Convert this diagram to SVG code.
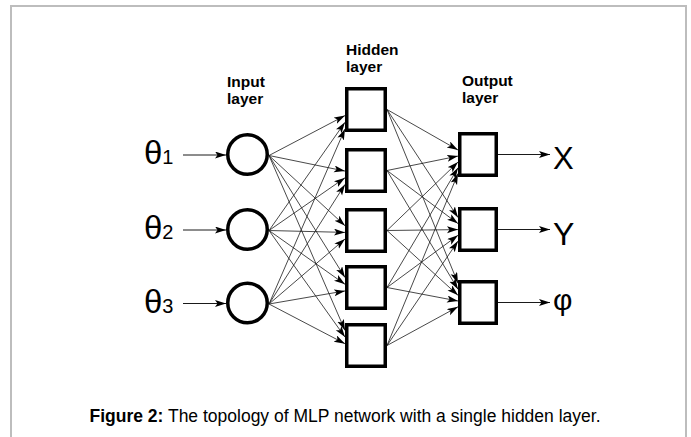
<svg xmlns="http://www.w3.org/2000/svg" width="691" height="437" viewBox="0 0 691 437">
  <style>
    .frame { fill: none; stroke: #bdbdbd; stroke-width: 2; }
    .node { fill: #ffffff; stroke: #000000; stroke-width: 3.5; }
    .link { fill: none; stroke: #1a1a1a; stroke-width: 0.8; marker-end: url(#head); }
    .io { fill: none; stroke: #1a1a1a; stroke-width: 1; marker-end: url(#head); }
    .lbl { font-family: "Liberation Sans", Arial, sans-serif; font-weight: bold; font-size: 15.5px; fill: #000; }
    .sym { font-family: "Liberation Sans", Arial, sans-serif; fill: #000; }
    .cap { font-family: "Liberation Sans", Arial, sans-serif; font-size: 17.5px; fill: #000; }
  </style>
  <defs>
    <marker id="head" markerUnits="userSpaceOnUse" markerWidth="12" markerHeight="8" refX="11" refY="3.5" orient="auto">
      <path d="M0,0 L11,3.5 L0,7 L2.5,3.5 Z" fill="#000"/>
    </marker>
  </defs>

  <rect width="691" height="437" fill="#ffffff"/>
  <path class="frame" d="M11,440 V6 H686 V440"/>

  <!-- layer titles -->
  <g id="titles">
    <text class="lbl" x="227" y="87">Input</text>
    <text class="lbl" x="227" y="104">layer</text>
    <text class="lbl" x="346" y="55">Hidden</text>
    <text class="lbl" x="346" y="72">layer</text>
    <text class="lbl" x="462" y="86">Output</text>
    <text class="lbl" x="462" y="103">layer</text>
  </g>

  <!-- connectors -->
  <g id="connectors">
    <!-- inputs into input neurons -->
    <line class="io" x1="183" y1="155" x2="226" y2="155"/>
    <line class="io" x1="183" y1="230" x2="226" y2="230"/>
    <line class="io" x1="183" y1="303.5" x2="226" y2="303.5"/>
    <!-- input layer to hidden layer -->
    <line class="link" x1="269" y1="155.5" x2="345" y2="115.6"/>
    <line class="link" x1="269" y1="230.5" x2="345" y2="122.3"/>
    <line class="link" x1="269" y1="304" x2="345" y2="128.9"/>
    <line class="link" x1="269" y1="155.5" x2="345" y2="171.1"/>
    <line class="link" x1="269" y1="230.5" x2="345" y2="177.8"/>
    <line class="link" x1="269" y1="304" x2="345" y2="184.4"/>
    <line class="link" x1="269" y1="155.5" x2="345" y2="225.7"/>
    <line class="link" x1="269" y1="230.5" x2="345" y2="232.4"/>
    <line class="link" x1="269" y1="304" x2="345" y2="239"/>
    <line class="link" x1="269" y1="155.5" x2="345" y2="277.5"/>
    <line class="link" x1="269" y1="230.5" x2="345" y2="284.3"/>
    <line class="link" x1="269" y1="304" x2="345" y2="290.9"/>
    <line class="link" x1="269" y1="155.5" x2="345" y2="330.4"/>
    <line class="link" x1="269" y1="230.5" x2="345" y2="337.1"/>
    <line class="link" x1="269" y1="304" x2="345" y2="343.7"/>
    <!-- hidden layer to output layer -->
    <line class="link" x1="387" y1="109.5" x2="458" y2="150"/>
    <line class="link" x1="387" y1="170.5" x2="458" y2="156.1"/>
    <line class="link" x1="387" y1="230.5" x2="458" y2="162.1"/>
    <line class="link" x1="387" y1="287.5" x2="458" y2="167.8"/>
    <line class="link" x1="387" y1="345.5" x2="458" y2="173.6"/>
    <line class="link" x1="387" y1="109.5" x2="458" y2="217.5"/>
    <line class="link" x1="387" y1="170.5" x2="458" y2="223.6"/>
    <line class="link" x1="387" y1="230.5" x2="458" y2="229.6"/>
    <line class="link" x1="387" y1="287.5" x2="458" y2="235.3"/>
    <line class="link" x1="387" y1="345.5" x2="458" y2="241.1"/>
    <line class="link" x1="387" y1="109.5" x2="458" y2="283.2"/>
    <line class="link" x1="387" y1="170.5" x2="458" y2="289.3"/>
    <line class="link" x1="387" y1="230.5" x2="458" y2="295.3"/>
    <line class="link" x1="387" y1="287.5" x2="458" y2="301"/>
    <line class="link" x1="387" y1="345.5" x2="458" y2="306.8"/>
    <!-- output neurons to outputs -->
    <line class="io" x1="498" y1="154.5" x2="550" y2="154.5"/>
    <line class="io" x1="498" y1="229.5" x2="550" y2="229.5"/>
    <line class="io" x1="498" y1="302.5" x2="550" y2="302.5"/>
  </g>

  <!-- input symbols -->
  <g id="in-theta1"><text class="sym" x="144" y="164" font-size="33">θ<tspan font-size="20">1</tspan></text></g>
  <g id="in-theta2"><text class="sym" x="144" y="239" font-size="33">θ<tspan font-size="20">2</tspan></text></g>
  <g id="in-theta3"><text class="sym" x="144" y="313" font-size="33">θ<tspan font-size="20">3</tspan></text></g>

  <!-- input layer -->
  <g id="input1"><circle class="node" cx="247.5" cy="154.5" r="19.75"/></g>
  <g id="input2"><circle class="node" cx="247.5" cy="229.5" r="19.75"/></g>
  <g id="input3"><circle class="node" cx="247.5" cy="303" r="19.75"/></g>

  <!-- hidden layer -->
  <g id="hidden1"><rect class="node" x="346.75" y="88.75" width="38.5" height="41.5"/></g>
  <g id="hidden2"><rect class="node" x="346.75" y="149.75" width="38.5" height="41.5"/></g>
  <g id="hidden3"><rect class="node" x="346.75" y="209.75" width="38.5" height="41.5"/></g>
  <g id="hidden4"><rect class="node" x="346.75" y="266.75" width="38.5" height="41.5"/></g>
  <g id="hidden5"><rect class="node" x="346.75" y="324.75" width="38.5" height="41.5"/></g>

  <!-- output layer -->
  <g id="output1"><rect class="node" x="459.75" y="133.75" width="36.5" height="41.5"/></g>
  <g id="output2"><rect class="node" x="459.75" y="208.75" width="36.5" height="41.5"/></g>
  <g id="output3"><rect class="node" x="459.75" y="281.75" width="36.5" height="41.5"/></g>

  <!-- output symbols -->
  <g id="out-x"><text class="sym" x="553" y="169" font-size="31">X</text></g>
  <g id="out-y"><text class="sym" x="553" y="245" font-size="32">Y</text></g>
  <g id="out-phi"><text class="sym" x="553" y="310" font-size="30">φ</text></g>

  <!-- caption -->
  <text class="cap" x="345" y="422" text-anchor="middle"><tspan font-weight="bold">Figure 2:</tspan> The topology of MLP network with a single hidden layer.</text>
</svg>
